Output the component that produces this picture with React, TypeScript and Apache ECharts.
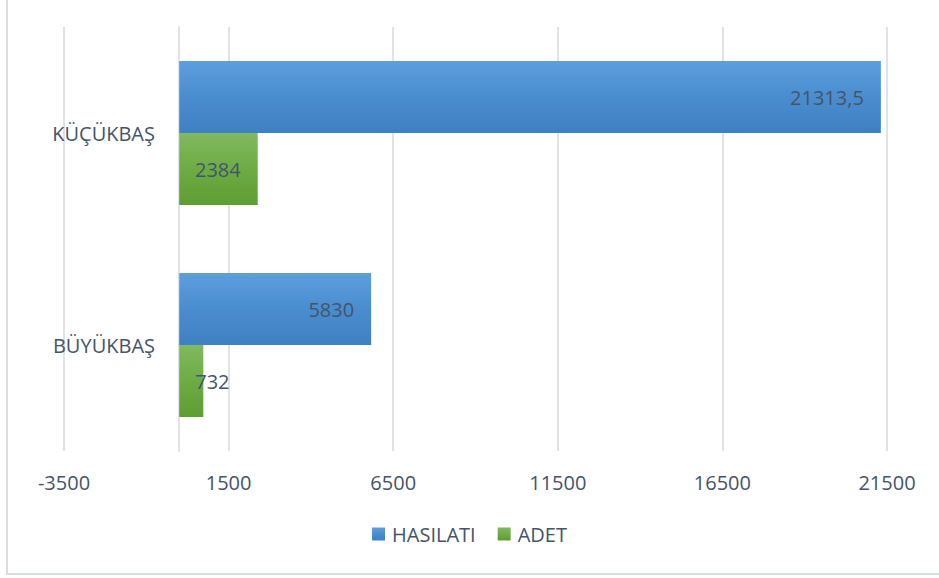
import React, { useEffect, useRef } from "react";
import * as echarts from "echarts";

const categories = ["BÜYÜKBAŞ", "KÜÇÜKBAŞ"];
const hasilati = [5830, 21313.5];
const adet = [732, 2384];
const seriesNames = ["HASILATI", "ADET"];
const xMin = -3500;
const xMax = 21500;
const xInterval = 5000;

const TEXT = "#44546a";
const GRID = "#dfe3e9";
const FONT = "Open Sans";

export default function App() {
  const ref = useRef<HTMLDivElement>(null);
  useEffect(() => {
    if (!ref.current) return;
    const chart = echarts.init(ref.current, undefined, { renderer: "svg" });
    const blue = new echarts.graphic.LinearGradient(0, 0, 0, 1, [
      { offset: 0, color: "#5d9edd" },
      { offset: 0.5, color: "#4a8dcf" },
      { offset: 1, color: "#3f80c2" },
    ]);
    const green = new echarts.graphic.LinearGradient(0, 0, 0, 1, [
      { offset: 0, color: "#80b95f" },
      { offset: 0.5, color: "#6eab45" },
      { offset: 1, color: "#5e9d32" },
    ]);
    const fmt = (p: any) => String(p.value).replace(".", ",");
    const labelBase = {
      show: true,
      position: "insideRight" as const,
      distance: 17,
      color: TEXT,
      fontSize: 20,
      fontFamily: FONT,
      formatter: fmt,
    };
    chart.setOption({
      animation: false,
      textStyle: { fontFamily: FONT },
      graphic: [
        {
          type: "rect",
          shape: { x: 7, y: -10, width: 1000, height: 584 },
          style: { fill: "none", stroke: "#d9dde3", lineWidth: 2 },
          silent: true,
        },
      ],
      grid: {
        left: 64,
        right: 52,
        top: 27,
        bottom: 127,
        containLabel: false,
        outerBoundsMode: "none",
      },
      legend: {
        bottom: 29,
        left: "center",
        icon: "rect",
        itemWidth: 13,
        itemHeight: 13,
        itemGap: 22,
        textStyle: { color: TEXT, fontSize: 20, fontFamily: FONT, padding: [0, 0, 0, 2] },
        data: seriesNames,
      },
      xAxis: {
        type: "value",
        min: xMin,
        max: xMax,
        interval: xInterval,
        axisLine: { show: false },
        axisTick: { show: false },
        splitLine: { show: true, lineStyle: { color: GRID, width: 2 } },
        axisLabel: {
          color: TEXT,
          fontSize: 20,
          fontFamily: FONT,
          margin: 21,
          formatter: (v: number) => String(v),
        },
      },
      yAxis: {
        type: "category",
        data: categories,
        axisLine: { show: true, onZero: true, lineStyle: { color: GRID, width: 2 } },
        axisTick: { show: false },
        axisLabel: { color: TEXT, fontSize: 20, fontFamily: FONT, margin: -91 },
      },
      series: [
        {
          name: seriesNames[0],
          type: "bar",
          data: hasilati,
          barWidth: 72,
          barGap: "0%",
          itemStyle: { color: blue },
          label: labelBase,
        },
        {
          name: seriesNames[1],
          type: "bar",
          data: adet.map((v, i) =>
            i === 0
              ? {
                  value: v,
                  label: { position: [16, "50%"], align: "left", verticalAlign: "middle" },
                }
              : v
          ),
          barWidth: 72,
          barGap: "0%",
          itemStyle: { color: green },
          label: labelBase,
        },
      ],
    });
    return () => chart.dispose();
  }, []);
  return (
    <div
      ref={ref}
      style={{ position: "fixed", left: 0, top: 0, width: 939, height: 578, background: "#fff" }}
    />
  );
}
